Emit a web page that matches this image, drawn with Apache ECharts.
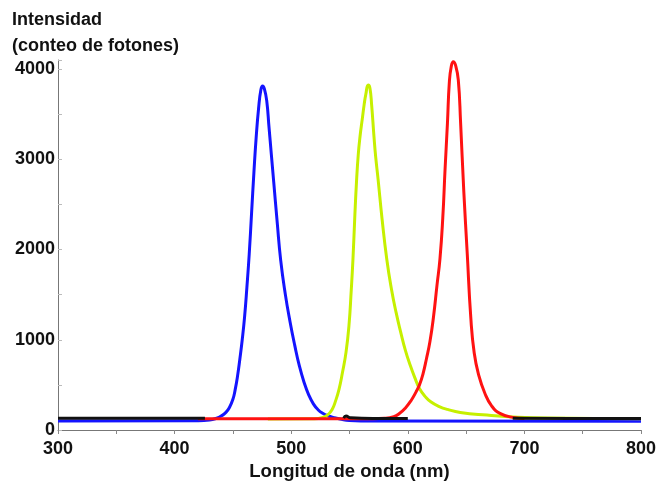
<!DOCTYPE html>
<html>
<head>
<meta charset="utf-8">
<script src="https://cdn.jsdelivr.net/npm/echarts@6/dist/echarts.min.js"></script>
<style>
  html, body { margin: 0; padding: 0; background: #fff; }
  #chart { width: 657px; height: 482px; }
</style>
</head>
<body>
<div id="chart"></div>
<script>
// longitudes de onda (nm) y cuentas
var blueNm  = [300, 420, 430, 436, 440, 444, 447, 450, 452, 454, 456, 458, 460, 462, 464, 466, 468, 470, 472, 474, 475.5, 477, 479, 481, 483, 485, 488, 491, 495, 499, 503, 507, 511, 515, 519, 523, 527, 532, 537, 543, 550, 560, 800];
var blueVal = [100, 102, 110, 130, 155, 195, 250, 340, 450, 600, 790, 1000, 1250, 1580, 1950, 2400, 2850, 3250, 3560, 3770, 3811, 3780, 3650, 3350, 3050, 2750, 2300, 1880, 1500, 1200, 940, 710, 530, 390, 290, 225, 185, 155, 135, 118, 105, 100, 98];

var yellowNm  = [480, 520, 527, 531, 535, 538, 541, 544, 547, 549.5, 551.5, 553, 554.5, 556, 557.5, 559, 561, 562.5, 564, 566, 567.5, 569, 571, 572.5, 574.5, 578, 582, 586, 590, 594, 598, 602, 606, 610, 615, 620, 627, 634, 645, 668, 690, 720, 800];
var yellowVal = [122, 124, 138, 165, 225, 320, 450, 640, 860, 1150, 1550, 1900, 2350, 2750, 3050, 3250, 3450, 3600, 3720, 3822, 3790, 3600, 3250, 3020, 2780, 2330, 1890, 1560, 1300, 1080, 880, 720, 580, 460, 370, 310, 260, 228, 195, 165, 145, 132, 125];

var redNm  = [420, 570, 580, 588, 593, 598, 603, 607, 610, 613, 616, 619, 622, 625, 627.6, 630, 632, 634, 635.6, 637.3, 639, 641, 643.3, 645.3, 648, 651, 654, 657, 661, 666, 672, 679, 690, 700];
var redVal = [125, 126, 130, 148, 185, 245, 330, 420, 500, 620, 790, 980, 1250, 1600, 1900, 2350, 2900, 3400, 3850, 4030, 4080, 4040, 3880, 3400, 2650, 1950, 1250, 850, 600, 410, 265, 185, 140, 128];

var blackNm  = [300, 360, 426, 487, 545, 547, 551, 570, 600, 645, 690, 740, 800];
var blackVal = [130, 130, 130, null, 132, 155, 135, 128, 128, null, 130, 128, 128];

var xTicks = [300, 400, 500, 600, 700, 800];
var yTicks = [0, 1000, 2000, 3000, 4000];

function pairs(xs, ys) {
    var out = [];
    for (var i = 0; i < xs.length; i++) {
        out.push([xs[i], ys[i] === null ? '-' : ys[i]]);
    }
    return out;
}

var chart = echarts.init(document.getElementById('chart'));
var font = '"Liberation Sans", Arial, sans-serif';

function curve(name, color, xs, ys, z) {
    return {
        name: name,
        type: 'line',
        data: pairs(xs, ys),
        showSymbol: false,
        smooth: 0.5,
        connectNulls: false,
        z: z,
        lineStyle: { color: color, width: 3 },
        itemStyle: { color: color },
        animation: false
    };
}

var option = {
    backgroundColor: '#fff',
    animation: false,
    title: {
        text: 'Intensidad\n(conteo de fotones)',
        left: 12,
        top: 7,
        padding: 0,
        textStyle: {
            fontFamily: font,
            fontWeight: 'bold',
            fontSize: 18,
            lineHeight: 26,
            color: '#111'
        }
    },
    grid: { left: 58, right: 16, top: 60, bottom: 52, outerBoundsMode: 'none', containLabel: false },
    xAxis: {
        type: 'value',
        min: 300,
        max: 800,
        interval: 50,
        name: 'Longitud de onda (nm)',
        nameLocation: 'middle',
        nameGap: 26,
        nameTextStyle: { fontFamily: font, fontWeight: 'bold', fontSize: 18.5, color: '#111' },
        axisLine: { show: true, lineStyle: { color: '#777', width: 1 } },
        axisTick: { show: true, length: 4, lineStyle: { color: '#888' } },
        splitLine: { show: false },
        axisLabel: {
            margin: 10,
            fontFamily: font,
            fontWeight: 'bold',
            fontSize: 18,
            color: '#111',
            formatter: function (v) { return xTicks.indexOf(v) >= 0 ? String(v) : ''; }
        }
    },
    yAxis: {
        type: 'value',
        min: 0,
        max: 4100,
        interval: 500,
        axisLine: { show: true, lineStyle: { color: '#777', width: 1 } },
        axisTick: { show: true, inside: true, length: 4, lineStyle: { color: '#bbb' } },
        splitLine: { show: false },
        axisLabel: {
            margin: 3,
            fontFamily: font,
            fontWeight: 'bold',
            fontSize: 18,
            color: '#111',
            formatter: function (v) { return yTicks.indexOf(v) >= 0 ? String(v) : ''; }
        }
    },
    series: [
        curve('Azul', '#1414ff', blueNm, blueVal, 2),
        curve('Verde', '#c6f000', yellowNm, yellowVal, 3),
        curve('Rojo', '#ff1212', redNm, redVal, 4),
        curve('Fondo', '#111', blackNm, blackVal, 5)
    ]
};

chart.setOption(option);
</script>
</body>
</html>
